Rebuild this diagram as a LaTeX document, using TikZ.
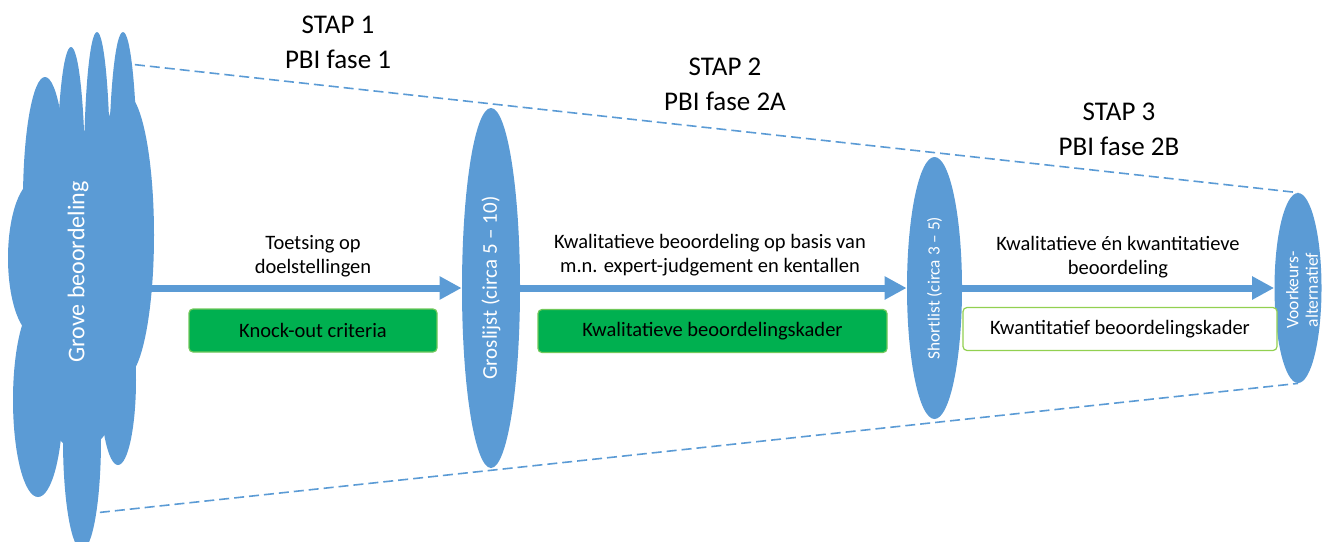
\documentclass[tikz,border=0pt]{standalone}
\usepackage{fontspec}
\setmainfont{Carlito}
\usetikzlibrary{shapes.geometric,arrows.meta}

% Changing color 91 155 213
\definecolor{r91g155b213}{RGB}{91,155,213}
% Changing color 0 176 80
\definecolor{r0g176b80}{RGB}{0,176,80}
% Changing color 112 200 90
\definecolor{r112g200b90}{RGB}{112,200,90}
% Changing color 146 208 80
\definecolor{r146g208b80}{RGB}{146,208,80}

\tikzset{
  phase/.style={ellipse, fill=r91g155b213, inner sep=0pt, rotate=90, text=white},
  flow/.style={line width=3.5pt, draw=r91g155b213, -{Triangle[length=11pt,width=11pt]}},
  funnel/.style={line width=0.8pt, draw=r91g155b213, dash pattern=on 5pt off 2.5pt},
  kader/.style={rounded corners=2pt, line width=0.6pt, minimum height=21.5pt, font=\fontsize{10.25}{12}\selectfont},
  steptitle/.style={align=center, font=\fontsize{13.5}{17.5}\selectfont},
  flowlabel/.style={align=center, font=\fontsize{10.25}{12}\selectfont}
}

\begin{document}
\begin{tikzpicture}[x=0.5pt,y=-0.5pt]
\useasboundingbox (0,0) rectangle (1326,541);

% Marking the three lists by ellipses
\node[phase, minimum width=180pt, minimum height=29pt, font=\fontsize{10.5}{12}\selectfont] (gros) at (491,288) {Groslijst (circa 5 -- 10)};
\node[phase, minimum width=131pt, minimum height=27.5pt, font=\fontsize{8.6}{10}\selectfont] (short) at (934.5,288) {Shortlist (circa 3 -- 5)};
\node[phase, minimum width=95pt, minimum height=23.5pt] (voork) at (1298,288) {};
\node[rotate=90, text=white, align=center, font=\fontsize{8.8}{9.8}\selectfont] (voorkTxt) at (1302,290) {Voorkeurs-\\alternatief};

% Drawing the funnel
\coordinate (cloudT) at (120,63);
\coordinate (cloudB) at (85,514);
\draw[funnel] (cloudT) -- (voork.east);
\draw[funnel] (cloudB) -- (voork.west);

% Filling the cloud
\foreach \cx/\cy/\rx/\ry in {45/200/22/123, 71/180/14/133, 97/172/13/140, 123/172/14/140,
    125/235/29/142, 36/258/28/78, 38/400/25/97, 82/440/19/110, 118/380/18/85, 80/290/58/160}
  \fill[r91g155b213] (\cx,\cy) ellipse [x radius=\rx, y radius=\ry];
\node[rotate=90, text=white, font=\fontsize{12}{14}\selectfont] (grove) at (78,272) {Grove beoordeling};
\coordinate (cloudR) at (150,288);

% Drawing the arrows
\draw[flow] (cloudR) -- (gros.north);
\draw[flow] (gros.south) -- (short.north);
\draw[flow] (short.south) -- (voork.north);

% Labels of the arrows
\node[flowlabel] (toets) at (313,256.5) {Toetsing op\\doelstellingen};
\node[flowlabel] (kwal) at (710,255.5) {Kwalitatieve beoordeling op basis van\\m.n. expert-judgement en kentallen};
\node[flowlabel] (kwant) at (1118,257.5) {Kwalitatieve én kwantitatieve\\beoordeling};

% Frameworks
\node[kader, fill=r0g176b80, draw=r112g200b90, minimum width=124pt] (knockout) at (313,330.5) {Knock-out criteria};
\node[kader, fill=r0g176b80, draw=r112g200b90, minimum width=174.5pt] (kwalkader) at (712.5,331) {Kwalitatieve beoordelingskader};
\node[kader, fill=white, draw=r146g208b80, minimum width=157pt] (kwantkader) at (1120,329) {Kwantitatief beoordelingskader};

% Steps
\node[steptitle] (stap1) at (338,42) {STAP 1\\PBI fase 1};
\node[steptitle] (stap2) at (725,84) {STAP 2\\PBI fase 2A};
\node[steptitle] (stap3) at (1119,129) {STAP 3\\PBI fase 2B};
\end{tikzpicture}
\end{document}
